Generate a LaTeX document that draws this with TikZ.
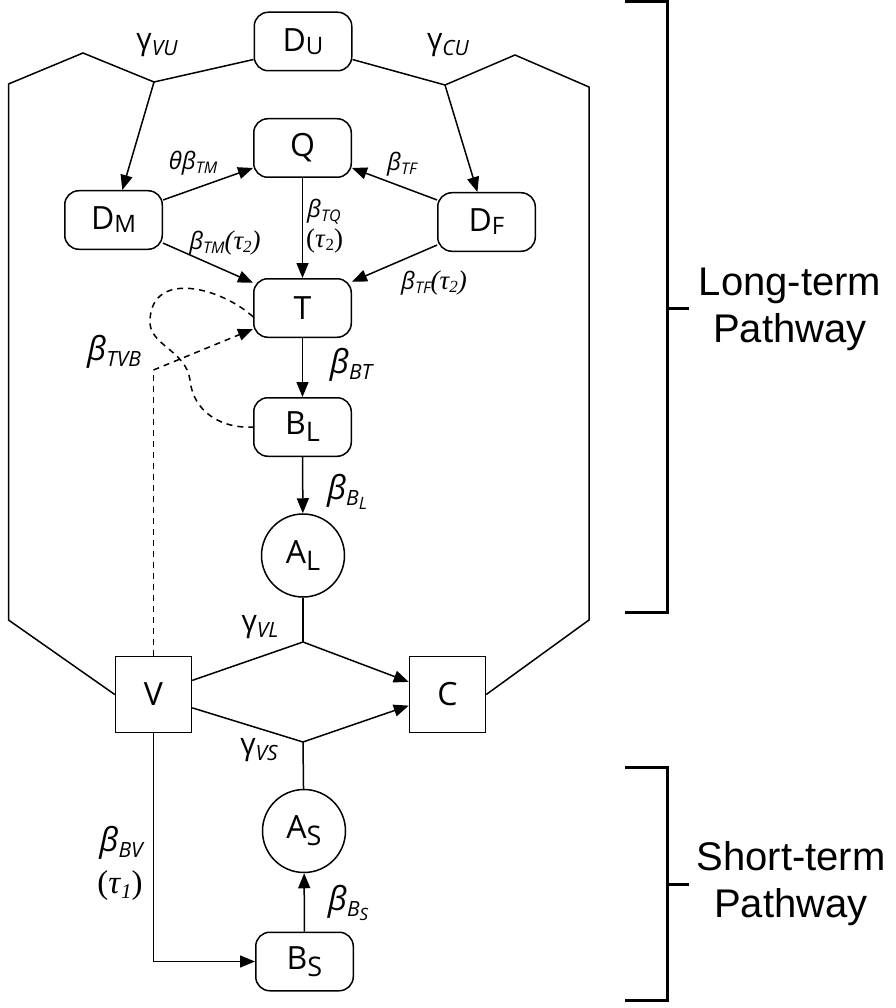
\documentclass[tikz,border=0pt]{standalone}
\usepackage{fontspec}
\usetikzlibrary{arrows.meta}
\newfontfamily\nf{Open Sans}
\newfontfamily\serf{Liberation Serif}
\newfontfamily\brf{Liberation Sans}
\newcommand{\Dn}[1]{D\raisebox{-3pt}{\fontsize{24}{24}\selectfont #1}}
\newcommand{\Ln}[2]{#1\raisebox{-7pt}{\fontsize{27}{27}\selectfont #2}}
\newcommand{\ssub}[1]{\raisebox{-4pt}{\fontsize{16}{16}\selectfont\itshape #1}}
\newcommand{\bsub}[1]{\raisebox{-6pt}{\fontsize{21}{21}\selectfont\itshape #1}}
\newcommand{\gsub}[1]{\raisebox{-6pt}{\fontsize{21}{21}\selectfont\itshape #1}}
\newcommand{\tauS}[1]{{\serf\fontsize{27}{27}\selectfont(\textit{τ}\raisebox{-3pt}{\fontsize{17}{17}\selectfont #1})}}
\newcommand{\tauB}[1]{{\serf\fontsize{33}{33}\selectfont(\textit{τ}\raisebox{-5pt}{\fontsize{21}{21}\selectfont\itshape #1})}}
\tikzset{
  ln/.style={line width=1.5pt},
  arr/.style={line width=1.5pt,-{Triangle[length=15pt,width=12pt]}},
  dsh/.style={line width=1.5pt,dash pattern=on 6pt off 5pt},
  rbox/.style={draw,line width=1.5pt,rounded corners=14pt,minimum width=97.5pt,minimum height=58.5pt,inner sep=0pt,font=\nf\fontsize{32}{32}\selectfont},
  sq/.style={draw,line width=1.5pt,minimum size=76pt,inner sep=0pt,font=\nf\fontsize{32}{32}\selectfont},
  circ/.style={circle,draw,line width=1.5pt,minimum size=83pt,inner sep=0pt,font=\nf\fontsize{32}{32}\selectfont},
  slab/.style={inner sep=0pt,font=\nf\fontsize{24}{24}\selectfont},
  blab/.style={inner sep=0pt,font=\nf\fontsize{33}{33}\selectfont},
  glab/.style={inner sep=0pt,font=\nf\fontsize{30}{30}\selectfont},
  brk/.style={line width=3pt},
  brtext/.style={inner sep=0pt,align=center,font=\brf\fontsize{40}{47}\selectfont}
}
\begin{document}
\begin{tikzpicture}[x=1pt,y=-1pt]
\useasboundingbox (0,0) rectangle (895,1008);
% nodes
\node[rbox] (DU) at (303,41.5) {\Dn{U}};
\node[rbox] (Q) at (302.5,148) {Q};
\node[rbox] (DM) at (113.5,220) {\Dn{M}};
\node[rbox] (DF) at (486.5,222) {\Dn{F}};
\node[rbox] (T) at (302.5,308) {T};
\node[rbox] (BL) at (302.5,427) {\Ln{B}{L}};
\node[circ] (AL) at (303,555.5) {\Ln{A}{L}};
\node[sq] (V) at (153.5,694.5) {V};
\node[sq] (C) at (447.5,694.5) {C};
\node[circ] (AS) at (304,831) {\Ln{A}{S}};
\node[rbox] (BS) at (304.5,961.5) {\Ln{B}{S}};
% coordinates
\coordinate (J1) at (154,82);
\coordinate (PL) at (83,53);
\coordinate (CL) at (8.5,84);
\coordinate (CL2) at (8.5,620);
\coordinate (J2) at (445,85);
\coordinate (PR) at (515,55);
\coordinate (CR) at (589,87);
\coordinate (CR2) at (589,620);
\coordinate (JU) at (303,642);
\coordinate (JD) at (303,742);
\coordinate (DV) at (153.5,370);
\coordinate (K1) at (150,320);
\coordinate (K2) at (190,380);
% outer lines
\draw[ln] (DU.200) -- (J1) -- (PL) -- (CL) -- (CL2) -- (V.west);
\draw[ln] (DU.-20) -- (J2) -- (PR) -- (CR) -- (CR2) -- (C.east);
\draw[arr] (J1) -- (DM);
\draw[arr] (J2) -- (DF);
% inner arrows
\draw[arr] (DM.22) -- (Q.202);
\draw[arr] (DF.156) -- (Q.-22);
\draw[arr] (DM.-25) -- (T.153);
\draw[arr] (DF.205) -- (T.28);
\draw[arr] (Q) -- (T);
\draw[arr] (T) -- (BL);
\draw[arr] (BL) -- (AL);
% dashed
\draw[dsh] (T.190) .. controls (220,287) and (152,270) .. (K1)
  .. controls (148,345) and (186,350) .. (K2)
  .. controls (193,412) and (222,429) .. (BL.west);
\draw[dsh] (V.north) -- (DV);
\draw[dsh,-{Triangle[length=15pt,width=12pt]}] (DV) -- (T.203);
% bottom part
\draw[ln] (V.20) -- (JU);
\draw[arr] (JU) -- (C.162);
\draw[ln] (AL) -- (JU);
\draw[ln] (V.-19) -- (JD);
\draw[arr] (JD) -- (C.-164);
\draw[ln] (AS) -- (JD);
\draw[arr] (V.south) |- (BS.west);
\draw[arr] (BS) -- (AS);
% labels
\node[glab] (lVU) at (157,45) {γ\gsub{VU}};
\node[glab] (lCU) at (448,45) {γ\gsub{CU}};
\node[slab] (lTM) at (193,163) {\itshape θβ\ssub{TM}};
\node[slab] (lTF) at (402,164) {\itshape β\ssub{TF}};
\node[slab,anchor=west] (lTQ) at (307,212) {\itshape β\ssub{TQ}};
\node[slab,anchor=west] (lTQt) at (306,241) {\tauS{2}};
\node[slab] (lTMt) at (225,243) {\itshape β\ssub{TM}\tauS{2}};
\node[slab] (lTFt) at (434,283) {\itshape β\ssub{TF}\tauS{2}};
\node[blab] (lTVB) at (114,352) {\itshape β\bsub{TVB}};
\node[blab] (lBT) at (351,365) {\itshape β\bsub{BT}};
\node[blab] (lBL) at (347,492) {\itshape β\bsub{B\raisebox{-4pt}{\fontsize{17}{17}\selectfont L}}};
\node[glab] (lVL) at (260,627) {γ\gsub{VL}};
\node[glab] (lVS) at (259,750) {γ\gsub{VS}};
\node[blab] (lBV) at (121,843) {\itshape β\bsub{BV}};
\node[blab] (lBVt) at (120,886) {\tauB{1}};
\node[blab] (lBS) at (348,903) {\itshape β\bsub{B\raisebox{-4pt}{\fontsize{17}{17}\selectfont S}}};
% brackets
\coordinate (LT1) at (625,2);
\coordinate (LT2) at (667,2);
\coordinate (LB2) at (667,612);
\coordinate (LB1) at (625,612);
\coordinate (LM) at (667,308);
\coordinate (LM2) at (689,308);
\draw[brk] (LT1) -- (LT2) -- (LB2) -- (LB1);
\draw[brk] (LM) -- (LM2);
\node[brtext] (long) at (790,309) {Long-term\\Pathway};
\coordinate (ST1) at (625,767);
\coordinate (ST2) at (667,767);
\coordinate (SB2) at (667,1000);
\coordinate (SB1) at (625,1000);
\coordinate (SM) at (667,884);
\coordinate (SM2) at (689,884);
\draw[brk] (ST1) -- (ST2) -- (SB2) -- (SB1);
\draw[brk] (SM) -- (SM2);
\node[brtext] (short) at (791,884) {Short-term\\Pathway};
\end{tikzpicture}
\end{document}
